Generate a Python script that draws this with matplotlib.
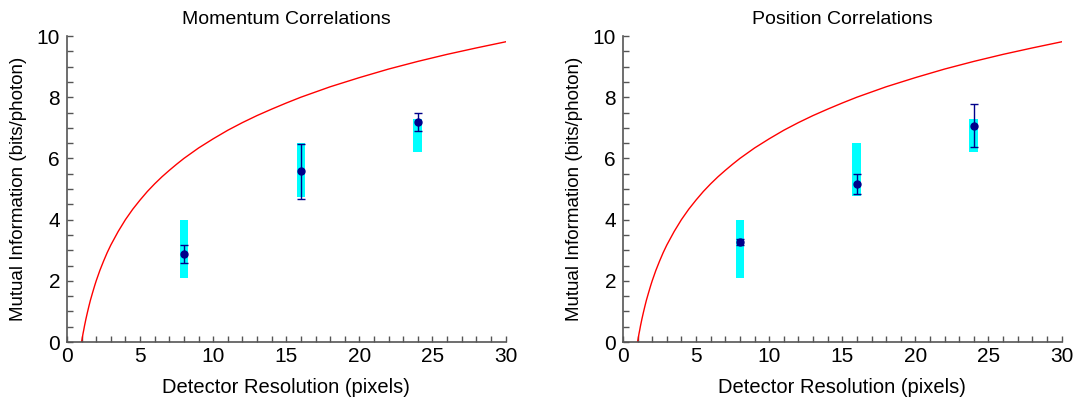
import matplotlib
matplotlib.use("Agg")
import matplotlib.pyplot as plt
from matplotlib.ticker import MultipleLocator

plt.rcParams["font.family"] = ["Liberation Sans", "DejaVu Sans"]

# theory curve
curve_x = [1.0, 1.05, 1.1, 1.15, 1.2, 1.3, 1.4, 1.5, 1.6, 1.75, 1.9, 2.0, 2.25,
           2.5, 2.75, 3.0, 3.5, 4.0, 4.5, 5.0, 5.5, 6.0, 6.5, 7.0, 7.5, 8.0,
           9.0, 10.0, 11.0, 12.0, 13.0, 14.0, 15.0, 16.0, 18.0, 20.0, 22.0,
           24.0, 26.0, 28.0, 30.0]
curve_y = [0.0, 0.14, 0.28, 0.40, 0.53, 0.76, 0.97, 1.17, 1.36, 1.61, 1.85, 2.0,
           2.34, 2.64, 2.92, 3.17, 3.61, 4.0, 4.34, 4.64, 4.92, 5.17, 5.40, 5.61,
           5.81, 6.0, 6.34, 6.64, 6.92, 7.17, 7.40, 7.61, 7.81, 8.0, 8.34, 8.64,
           8.92, 9.17, 9.40, 9.61, 9.81]

resolution = [8, 16, 24]

# cyan bands (low, high)
mom_band_lo = [2.1, 4.75, 6.2]
mom_band_hi = [4.0, 6.5, 7.3]
mom_val = [2.87, 5.58, 7.18]
mom_err = [0.3, 0.9, 0.3]

pos_band_lo = [2.1, 4.77, 6.2]
pos_band_hi = [4.0, 6.5, 7.3]
pos_val = [3.28, 5.17, 7.07]
pos_err = [0.1, 0.32, 0.7]

panels = [
    ("Momentum Correlations", mom_band_lo, mom_band_hi, mom_val, mom_err),
    ("Position Correlations", pos_band_lo, pos_band_hi, pos_val, pos_err),
]

fig = plt.figure(figsize=(10.75, 4), dpi=100)
lefts = [0.0623, 0.5795]
for left, (title, lo, hi, val, err) in zip(lefts, panels):
    ax = fig.add_axes([left, 0.145, 0.408, 0.765])
    ax.plot(curve_x, curve_y, color="red", lw=1, zorder=2)
    ax.bar(resolution, [h - l for l, h in zip(lo, hi)], bottom=lo, width=0.6,
           color="cyan", zorder=1)
    ax.errorbar(resolution, val, yerr=err, fmt="o", color="#00008b", ms=5,
                elinewidth=1, capsize=3, capthick=1, zorder=3)
    ax.set_xlim(0, 30)
    ax.set_ylim(0, 10)
    ax.xaxis.set_major_locator(MultipleLocator(5))
    ax.xaxis.set_minor_locator(MultipleLocator(1))
    ax.yaxis.set_major_locator(MultipleLocator(2))
    ax.yaxis.set_minor_locator(MultipleLocator(0.5))
    ax.tick_params(which="both", direction="in", length=4, width=1,
                   color="#555555", labelsize=15, top=False, right=False)
    ax.tick_params(axis="y", pad=5)
    for s in ["top", "right"]:
        ax.spines[s].set_visible(False)
    for s in ["left", "bottom"]:
        ax.spines[s].set_color("#555555")
        ax.spines[s].set_linewidth(1.2)
    ax.set_title(title, fontsize=14, pad=9)
    ax.set_xlabel("Detector Resolution (pixels)", fontsize=14.5, labelpad=9)
    ax.set_ylabel("Mutual Information (bits/photon)", fontsize=13.5, labelpad=7)

fig.savefig("out.png", dpi=100)
